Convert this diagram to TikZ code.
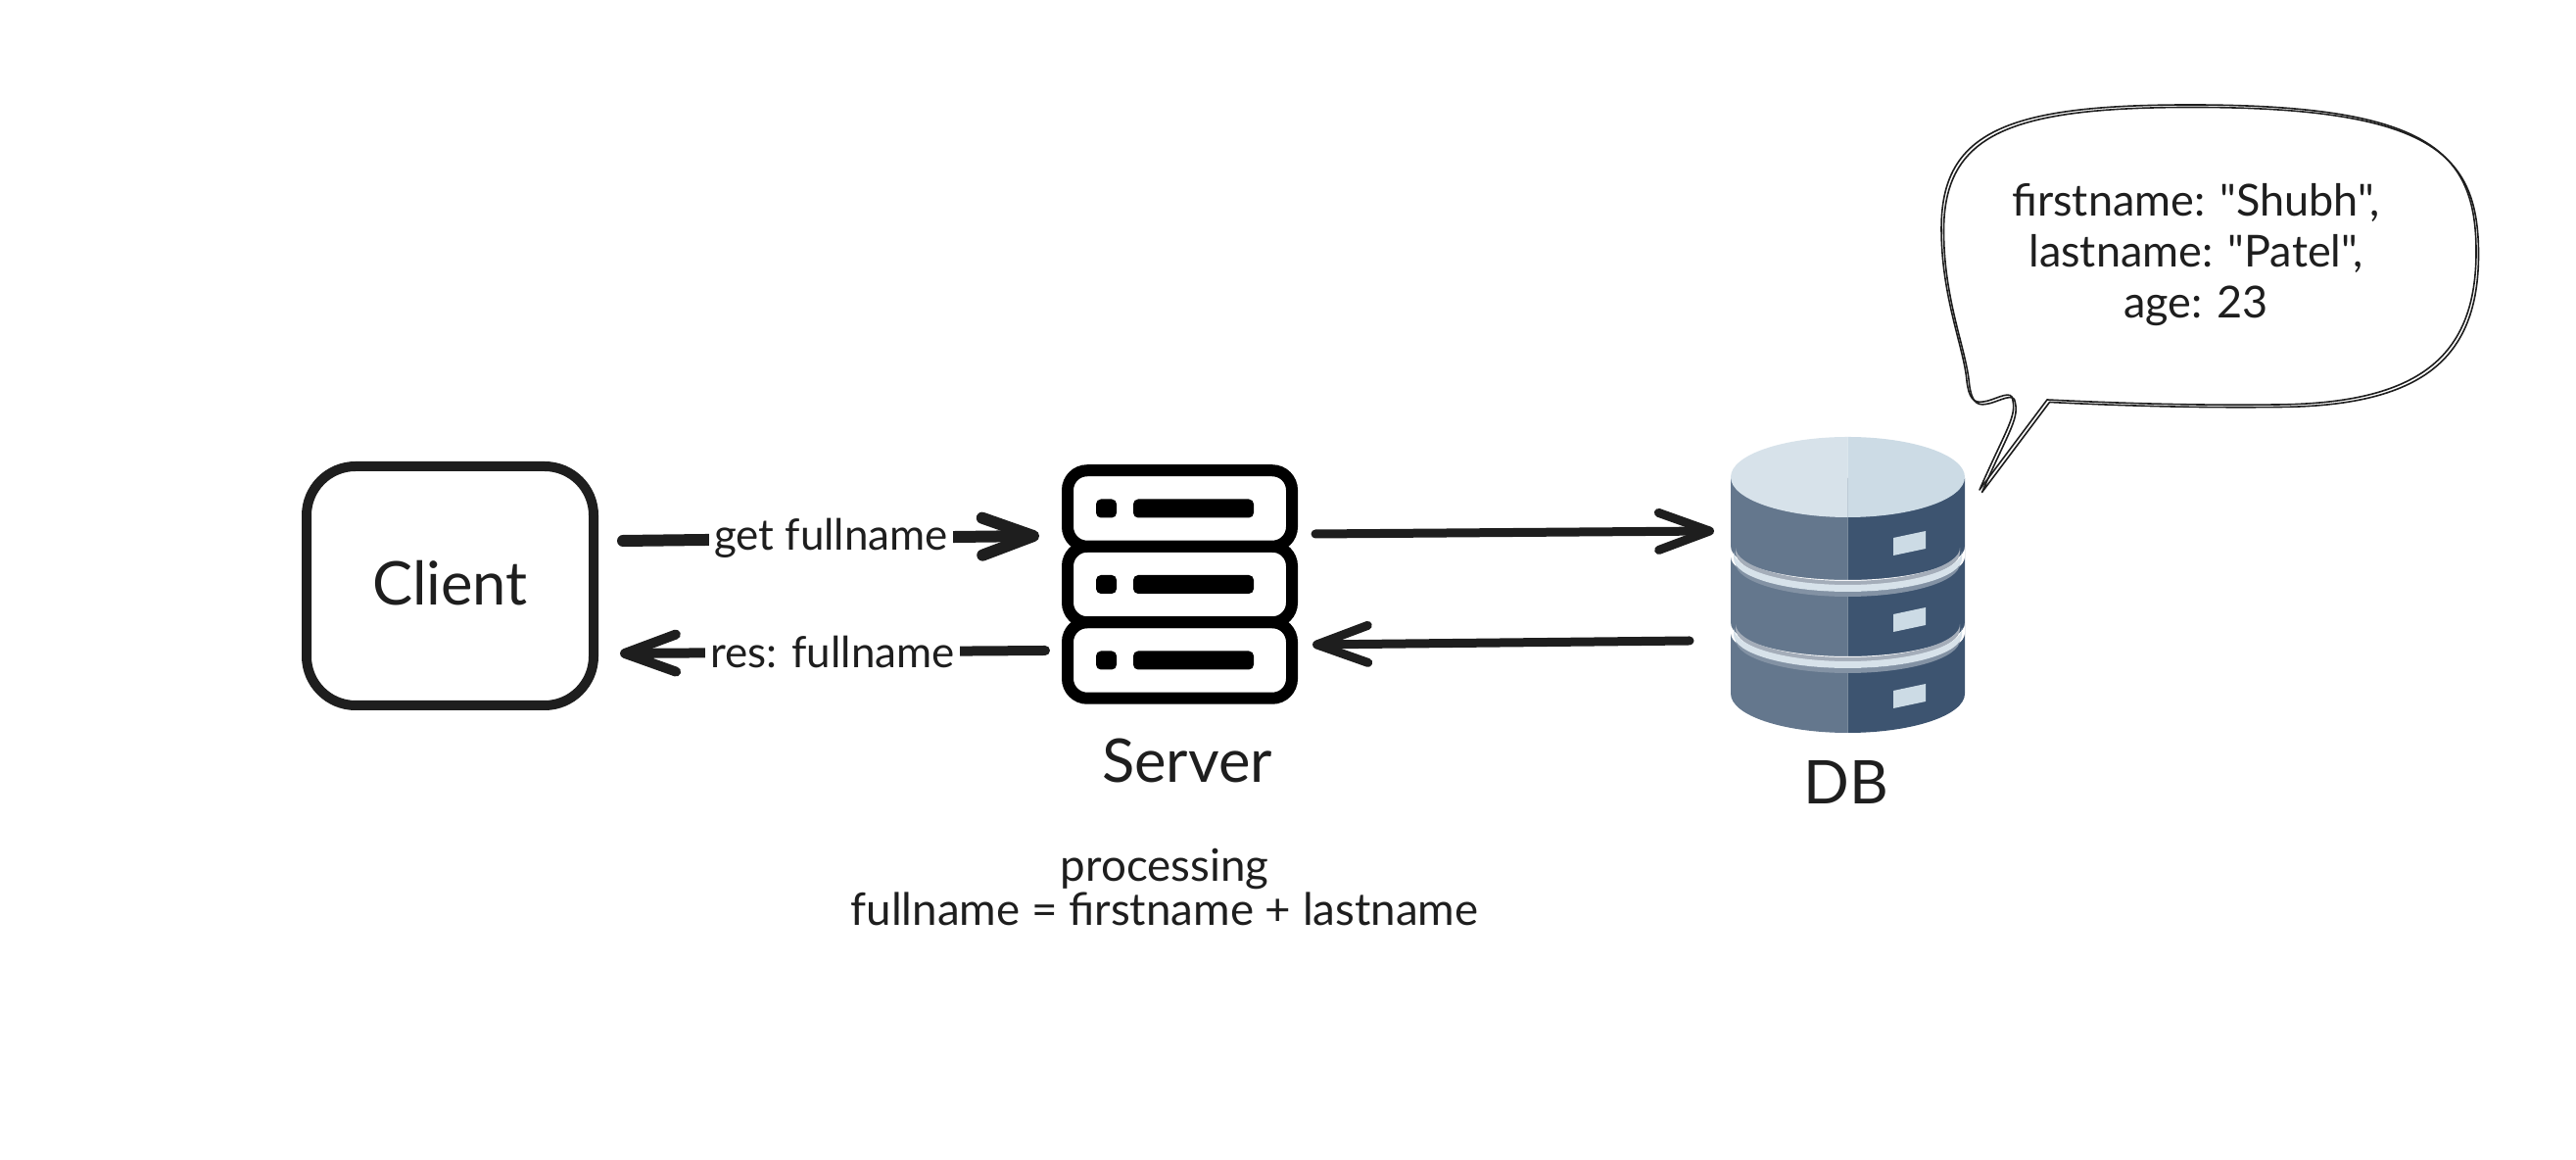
\documentclass[tikz,border=0pt]{standalone}
\usepackage{fontspec}
\setmainfont{Lato}[Ligatures=TeXOff]
\usetikzlibrary{arrows.meta}
\definecolor{inkline}{HTML}{1E1E1E}
\definecolor{dbside}{HTML}{64778D}
\definecolor{dbshade}{HTML}{3D5470}
\definecolor{dbtop}{HTML}{D7E2EA}
\definecolor{dbtopshade}{HTML}{CCDBE5}
\definecolor{dbring}{HTML}{A4ADB9}
\tikzset{
    rackbox/.style={draw=black,line width=0.12cm,rounded corners=0.2cm,fill=white,minimum width=2.29cm,minimum height=0.775cm,outer sep=0pt},
    rackled/.style={fill=black,rounded corners=0.05cm,inner sep=0pt},
    flowlabel/.style={fill=white,text=inkline,inner sep=1.5pt,font=\fontsize{12.5}{15}\selectfont},
    biglabel/.style={text=inkline,font=\fontsize{17.5}{21}\selectfont},
    smalllabel/.style={text=inkline,align=center,font=\fontsize{13}{13}\selectfont}
}
\begin{document}
\begin{tikzpicture}[>={Straight Barb[round,length=5.2mm,width=3.8mm]}, scale=1.0]
    \useasboundingbox (0,0) rectangle (26.3,11.84);
    % client box
    \node[draw=inkline,line width=0.10cm,rounded corners=0.5cm,minimum width=2.93cm,minimum height=2.44cm,outer sep=0pt,biglabel] (client) at (4.595,5.86) {\raisebox{0.07cm}{Client}};
    % server rack, bottom to top so the frames overlap
    \foreach \name/\y in {rackbot/5.10, rackmid/5.875, racktop/6.65}{
        \node[rackbox] (\name) at (12.045,\y) {};
        \node[rackled,minimum width=0.21cm,minimum height=0.19cm] (\name led) at (11.295,\y) {};
        \node[rackled,minimum width=1.23cm,minimum height=0.19cm] (\name bar) at (12.185,\y) {};
    }
    \node[biglabel] (serverlabel) at (12.12,4.08) {Server};
    \node[smalllabel] (processing) at (11.89,2.785) {processing\\fullname = firstname + lastname};
    % database cylinder
    \node[minimum width=2.39cm,minimum height=3.02cm,inner sep=0pt,outer sep=0pt] (db) at (18.865,5.87) {};
    \fill[dbside] (17.67,6.96) -- (18.865,6.96) -- (18.865,4.36) arc[start angle=270,end angle=180,x radius=1.195,y radius=0.40] -- cycle;
    \fill[dbshade] (20.06,6.96) -- (18.865,6.96) -- (18.865,4.36) arc[start angle=270,end angle=360,x radius=1.195,y radius=0.40] -- cycle;
    \fill[dbtop] (18.865,7.38) arc[start angle=90,end angle=270,x radius=1.195,y radius=0.41] -- cycle;
    \fill[dbtopshade] (18.865,7.38) arc[start angle=90,end angle=-90,x radius=1.195,y radius=0.41] -- cycle;
    % rings between the disks
    \foreach \y in {6.26,5.48}{
        \fill[white] (17.67,\y) arc[start angle=180,end angle=360,x radius=1.195,y radius=0.34] -- ++(0,-0.10) arc[start angle=360,end angle=180,x radius=1.195,y radius=0.34] -- cycle;
        \fill[dbside!80!white] (17.72,\y-0.12) arc[start angle=180,end angle=360,x radius=1.145,y radius=0.34] -- ++(0,-0.05) arc[start angle=360,end angle=180,x radius=1.145,y radius=0.34] -- cycle;
        \fill[dbring] (17.72,\y-0.01) arc[start angle=180,end angle=360,x radius=1.145,y radius=0.34] -- ++(0,-0.05) arc[start angle=360,end angle=180,x radius=1.145,y radius=0.34] -- cycle;
        \fill[dbtop] (17.70,\y-0.05) arc[start angle=180,end angle=360,x radius=1.165,y radius=0.34] -- ++(0,-0.07) arc[start angle=360,end angle=180,x radius=1.165,y radius=0.34] -- cycle;
    }
    % drive slots
    \foreach \y in {6.17,5.39,4.61}{
        \fill[dbtopshade] (19.33,\y) -- (19.66,\y+0.07) -- (19.66,\y+0.25) -- (19.33,\y+0.18) -- cycle;
    }
    \node[biglabel] (dblabel) at (18.85,3.86) {DB};
    % connectors
    \draw[inkline,line width=0.12cm,line cap=round,->] ([shift={(0.30,0.46)}]client.east) -- node[flowlabel] (getlabel) {get fullname} ([shift={(-0.29,-0.28)}]racktop.west);
    \draw[inkline,line width=0.10cm,line cap=round,->] ([shift={(-0.23,0.10)}]rackbot.west) -- node[flowlabel] (reslabel) {res: fullname} ([shift={(0.27,-0.69)}]client.east);
    \draw[inkline,line width=0.09cm,line cap=round,->] ([shift={(0.24,-0.26)}]racktop.east) -- ([shift={(-0.17,0.55)}]db.west);
    \draw[inkline,line width=0.09cm,line cap=round,->] ([shift={(-0.42,-0.57)}]db.west) -- ([shift={(0.21,0.16)}]rackbot.east);
    % speech bubble, traced twice for the sketched outline
    \foreach \off in {0,0.025}{
        \draw[inkline,line width=0.016cm,line join=round,xshift=\off cm,yshift=-\off cm]
            (20.90,7.76) .. controls (21.7,7.72) and (22.5,7.70) .. (23.24,7.71)
            .. controls (24.7,7.72) and (25.28,8.2) .. (25.28,9.27)
            .. controls (25.28,10.3) and (24.8,10.77) .. (22.36,10.77)
            .. controls (20.5,10.77) and (19.82,10.5) .. (19.82,9.51)
            .. controls (19.82,8.8) and (20.05,8.3) .. (20.08,7.95)
            .. controls (20.10,7.78) and (20.15,7.72) .. (20.25,7.74)
            .. controls (20.35,7.75) and (20.5,7.85) .. (20.54,7.79)
            .. controls (20.6,7.6) and (20.5,7.5) .. (20.21,6.84) -- cycle;
    }
    \node[text=inkline,align=center,font=\fontsize{12.8}{14.8}\selectfont] (record) at (22.42,9.24) {firstname: "Shubh",\\lastname: "Patel",\\age: 23};
\end{tikzpicture}
\end{document}
